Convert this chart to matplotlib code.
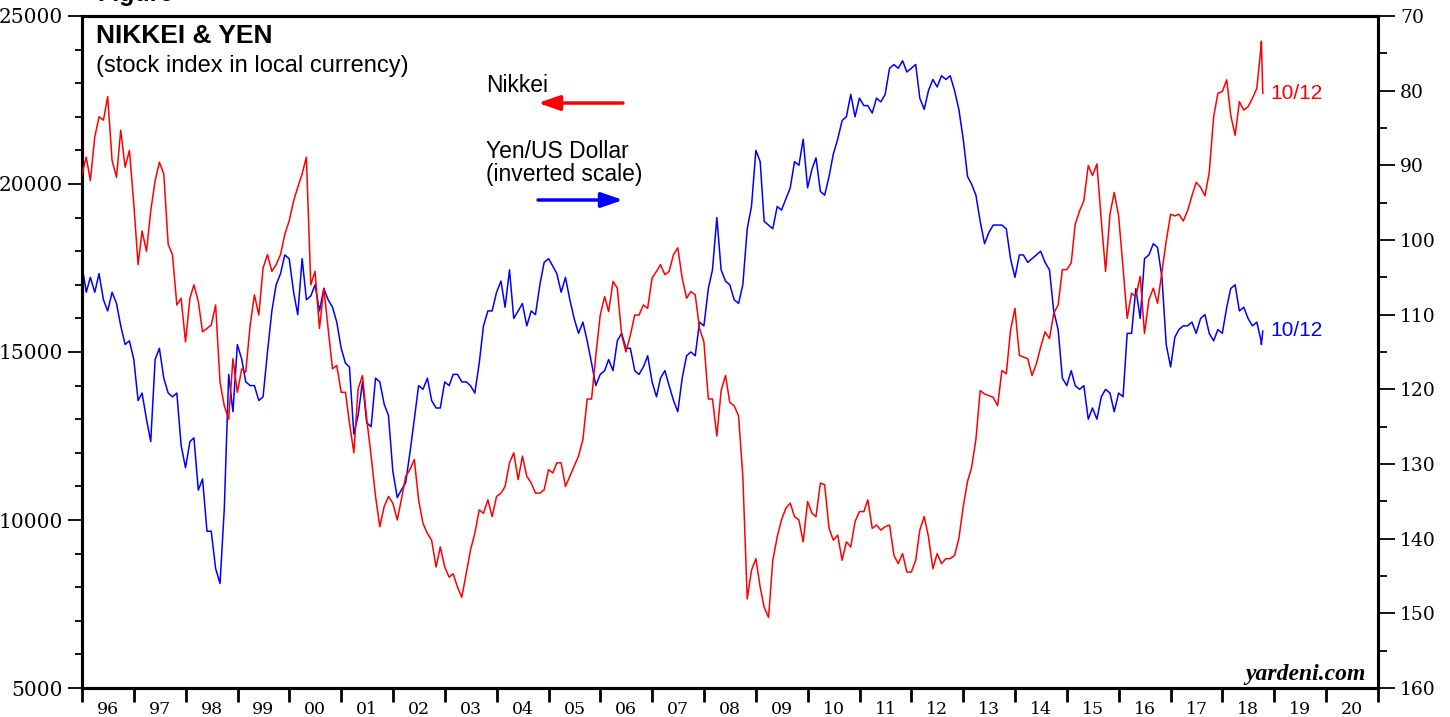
import matplotlib
matplotlib.use("Agg")
import matplotlib.pyplot as plt
from matplotlib.ticker import MultipleLocator, FixedLocator, NullFormatter
import pandas as pd

# month-end dates Jan 1996 .. Sep 2018, plus first day and the last two October points
dates = (["1996-01-02"]
         + [d.strftime("%Y-%m-%d") for d in pd.date_range("1996-01-31", "2018-09-30", freq="ME")]
         + ["2018-10-02", "2018-10-12"])

nikkei = [20300,
          20800, 20100, 21400, 22000, 21900, 22600, 20700, 20200, 21600, 20500, 21000, 19400,  # 96
          17600, 18600, 18000, 19200, 20100, 20650, 20300, 18200, 17900, 16400, 16600, 15300,  # 97
          16600, 17000, 16500, 15600, 15700, 15800, 16400, 14100, 13400, 13000, 14800, 13800,  # 98
          14500, 14400, 15800, 16700, 16100, 17500, 17900, 17400, 17600, 17900, 18500, 18900,  # 99
          19500, 19900, 20300, 20800, 17000, 17400, 15700, 16900, 15700, 14500, 14600, 13800,  # 00
          13800, 12900, 12000, 13900, 14300, 13000, 11900, 10700, 9800, 10400, 10700, 10500,   # 01
          10000, 10600, 11300, 11500, 11800, 10600, 9900, 9600, 9400, 8600, 9200, 8600,        # 02
          8300, 8400, 8000, 7700, 8400, 9100, 9600, 10300, 10200, 10600, 10100, 10700,         # 03
          10800, 11000, 11700, 12000, 11200, 11900, 11300, 11100, 10800, 10800, 10900, 11500,  # 04
          11400, 11700, 11700, 11000, 11300, 11600, 11900, 12400, 13600, 13600, 14900, 16100,  # 05
          16650, 16200, 17100, 16900, 15500, 15000, 15500, 16100, 16100, 16400, 16300, 17200,  # 06
          17400, 17600, 17300, 17400, 17900, 18100, 17200, 16600, 16800, 16700, 15700, 15300,  # 07
          13600, 13600, 12500, 13850, 14300, 13500, 13400, 13100, 11300, 7650, 8500, 8850,     # 08
          8000, 7400, 7100, 8800, 9500, 10000, 10350, 10500, 10100, 10000, 9350, 10550,        # 09
          10200, 10100, 11100, 11050, 9750, 9400, 9550, 8800, 9350, 9200, 9950, 10250,         # 10
          10250, 10600, 9750, 9850, 9700, 9800, 9850, 8950, 8700, 9000, 8450, 8450,            # 11
          8800, 9700, 10100, 9500, 8550, 9000, 8700, 8850, 8850, 8950, 9450, 10400,            # 12
          11150, 11550, 12400, 13850, 13750, 13700, 13650, 13400, 14450, 14350, 15650, 16300,  # 13
          14900, 14850, 14800, 14300, 14650, 15150, 15600, 15400, 16150, 16400, 17450, 17450,  # 14
          17650, 18800, 19200, 19500, 20550, 20250, 20600, 18900, 17400, 19100, 19750, 19050,  # 15
          17500, 16000, 16750, 16650, 17250, 15550, 16550, 16900, 16450, 17400, 18300, 19100,  # 16
          19050, 19100, 18900, 19200, 19650, 20050, 19900, 19650, 20350, 22000, 22700, 22750,  # 17
          23100, 22050, 21450, 22450, 22200, 22300, 22550, 22850, 24100,                       # 18
          24250, 22700]

yen = [103.5,
       107, 105, 107, 104.5, 108, 109.5, 107, 108.5, 111.5, 114, 113.5, 116,            # 96
       121.5, 120.5, 124, 127, 116, 114.5, 118.5, 120.5, 121, 120.5, 127.5, 130.5,      # 97
       127, 126.5, 133.5, 132, 139, 139, 144, 146, 136, 118, 123, 114,                  # 98
       116, 119, 119.5, 119.5, 121.5, 121, 115, 109.5, 106, 104.5, 102, 102.5,          # 99
       107, 110, 102.5, 108, 107.5, 106, 109.5, 106.5, 108, 109, 111, 114.5,            # 00
       116.5, 117, 126, 123.5, 119, 124.5, 125, 118.5, 119, 122, 123.5, 131,            # 01
       134.5, 133.5, 132.5, 128.5, 124, 119.5, 120, 118.5, 121.5, 122.5, 122.5, 119,    # 02
       119.5, 118, 118, 119, 119, 119.5, 120.5, 116.5, 111.5, 109.5, 109.5, 107,        # 03
       105.5, 109, 104, 110.5, 109.5, 108.5, 111.5, 109.5, 110, 106, 103, 102.5,        # 04
       103.5, 104.5, 107, 105, 108, 110.5, 112.5, 111, 113.5, 116.5, 119.5, 118,        # 05
       117.5, 116, 117.5, 113.5, 112.5, 114.5, 114.5, 117.5, 118, 117, 115.5, 119,      # 06
       121, 118.5, 117.5, 119.5, 121.5, 123, 118.5, 115.5, 115, 115.5, 111, 111.5,      # 07
       106.5, 104, 97, 104, 105.5, 106, 108, 108.5, 106, 98.5, 95.5, 88,                # 08
       89.5, 97.5, 98, 98.5, 95.5, 96, 94.5, 93, 89.5, 90, 86.5, 93,                    # 09
       90.5, 89, 93.5, 94, 91.5, 88.5, 86.5, 84, 83.5, 80.5, 83.5, 81,                  # 10
       82, 82, 83, 81, 81.5, 80.5, 77, 76.5, 77, 76, 77.5, 77,                          # 11
       76.5, 81, 82.5, 80, 78.5, 79.5, 78, 78.5, 78, 80, 82.5, 86.5,                    # 12
       91.5, 92.5, 94, 97.5, 100.5, 99, 98, 98, 98, 98.5, 102.5, 105,                   # 13
       102, 102, 103, 102.5, 102, 101.5, 103, 104, 109.5, 112, 118.5, 119.5,            # 14
       117.5, 119.5, 120, 119.5, 124, 122.5, 124, 121, 120, 120.5, 123, 120.5,          # 15
       121, 112.5, 112.5, 106.5, 110.5, 102.5, 102, 100.5, 101, 105, 114, 117,          # 16
       113, 112, 111.5, 111.5, 111, 112.5, 110.5, 110, 112.5, 113.5, 112, 112.5,        # 17
       109, 106.5, 106, 109.5, 109, 110.5, 111.5, 111, 113.5,                           # 18
       114, 112.2]

year_labels = ["96", "97", "98", "99", "00", "01", "02", "03", "04", "05", "06", "07", "08",
               "09", "10", "11", "12", "13", "14", "15", "16", "17", "18", "19", "20"]

# decimal years for the x axis
dt = pd.to_datetime(dates)
x = dt.year + (dt.dayofyear - 1) / 365.25

sans = "Liberation Sans"
plt.rcParams["font.family"] = "DejaVu Serif"
plt.rcParams["ytick.labelsize"] = 14.5
plt.rcParams["xtick.labelsize"] = 12.5

fig = plt.figure(figsize=(14.5, 7.17), dpi=100)
ax = fig.add_axes([82 / 1450, 29 / 717, 1296 / 1450, 672 / 717])
ax2 = ax.twinx()
ax2.set_facecolor("#ffffe6")
ax.patch.set_visible(False)
ax.set_zorder(ax2.get_zorder() + 1)

ax.plot(x, nikkei, color="#ff0000", lw=1.1, zorder=3)
ax2.plot(x, yen, color="#0000ff", lw=1.1, zorder=3)

ax.set_xlim(1996, 2021)
ax.set_ylim(5000, 25000)
ax2.set_ylim(160, 70)

# y ticks
ax.yaxis.set_major_locator(MultipleLocator(5000))
ax.yaxis.set_minor_locator(MultipleLocator(1000))
ax2.yaxis.set_major_locator(MultipleLocator(10))
ax2.yaxis.set_minor_locator(MultipleLocator(5))
ax.tick_params(axis="y", which="major", direction="out", length=10, width=1.3, pad=4)
ax.tick_params(axis="y", which="minor", direction="out", length=5, width=1.3)
ax2.tick_params(axis="y", which="major", direction="out", length=12, width=1.3, pad=4,
                labelsize=13.5)
ax2.tick_params(axis="y", which="minor", direction="out", length=6.5, width=1.3)

# x ticks: marks at year boundaries, labels centred in each year
years = list(range(1996, 2022))
ax.xaxis.set_major_locator(FixedLocator(years))
ax.xaxis.set_major_formatter(NullFormatter())
ax.xaxis.set_minor_locator(FixedLocator([y + 0.5 for y in years[:-1]]))
ax.set_xticklabels(year_labels, minor=True)
ax.tick_params(axis="x", which="major", direction="out", length=10, width=2)
ax.tick_params(axis="x", which="minor", length=0, pad=9)

for a in (ax, ax2):
    for side in ("left", "bottom", "right", "top"):
        a.spines[side].set_linewidth(2.2)

# titles
ax.text(0.0108, 0.9702, "NIKKEI & YEN", transform=ax.transAxes, fontsize=19,
        fontweight="bold", family=sans, va="center", ha="left")
ax.text(0.0108, 0.9256, "(stock index in local currency)", transform=ax.transAxes,
        fontsize=17, family=sans, va="center", ha="left")

# legend-ish labels and arrows
ax.text(0.3117, 0.8973, "Nikkei", transform=ax.transAxes, fontsize=16.5, family=sans,
        va="center", ha="left")
ax.annotate("", xy=(0.3519, 0.8705), xytext=(0.4174, 0.8705), xycoords="axes fraction",
            arrowprops=dict(arrowstyle="-|>,head_length=1.3,head_width=0.45",
                            color="#ff0000", lw=2.5, shrinkA=0, shrinkB=0))
ax.text(0.3117, 0.799, "Yen/US Dollar", transform=ax.transAxes, fontsize=16.5, family=sans,
        va="center", ha="left")
ax.text(0.3117, 0.7634, "(inverted scale)", transform=ax.transAxes, fontsize=16.5,
        family=sans, va="center", ha="left")
ax.annotate("", xy=(0.4174, 0.7262), xytext=(0.3519, 0.7262), xycoords="axes fraction",
            arrowprops=dict(arrowstyle="-|>,head_length=1.3,head_width=0.45",
                            color="#0000ff", lw=2.5, shrinkA=0, shrinkB=0))

# end labels
ax.text(0.9167, 0.884, "10/12", transform=ax.transAxes, fontsize=15, family=sans,
        color="#ff0000", va="center", ha="left")
ax.text(0.9167, 0.5313, "10/12", transform=ax.transAxes, fontsize=15, family=sans,
        color="#0000ff", va="center", ha="left")

ax.text(0.9907, 0.0208, "yardeni.com", transform=ax.transAxes, fontsize=17,
        family="Liberation Serif", fontweight="bold", fontstyle="italic",
        va="center", ha="right")

# figure caption, cut off at the top edge as in the source image
fig.text(97 / 1450, 1 - 1 / 717, "Figure", fontsize=18, fontweight="bold", family=sans,
         va="baseline", ha="left")

fig.savefig("out.png", dpi=100)
